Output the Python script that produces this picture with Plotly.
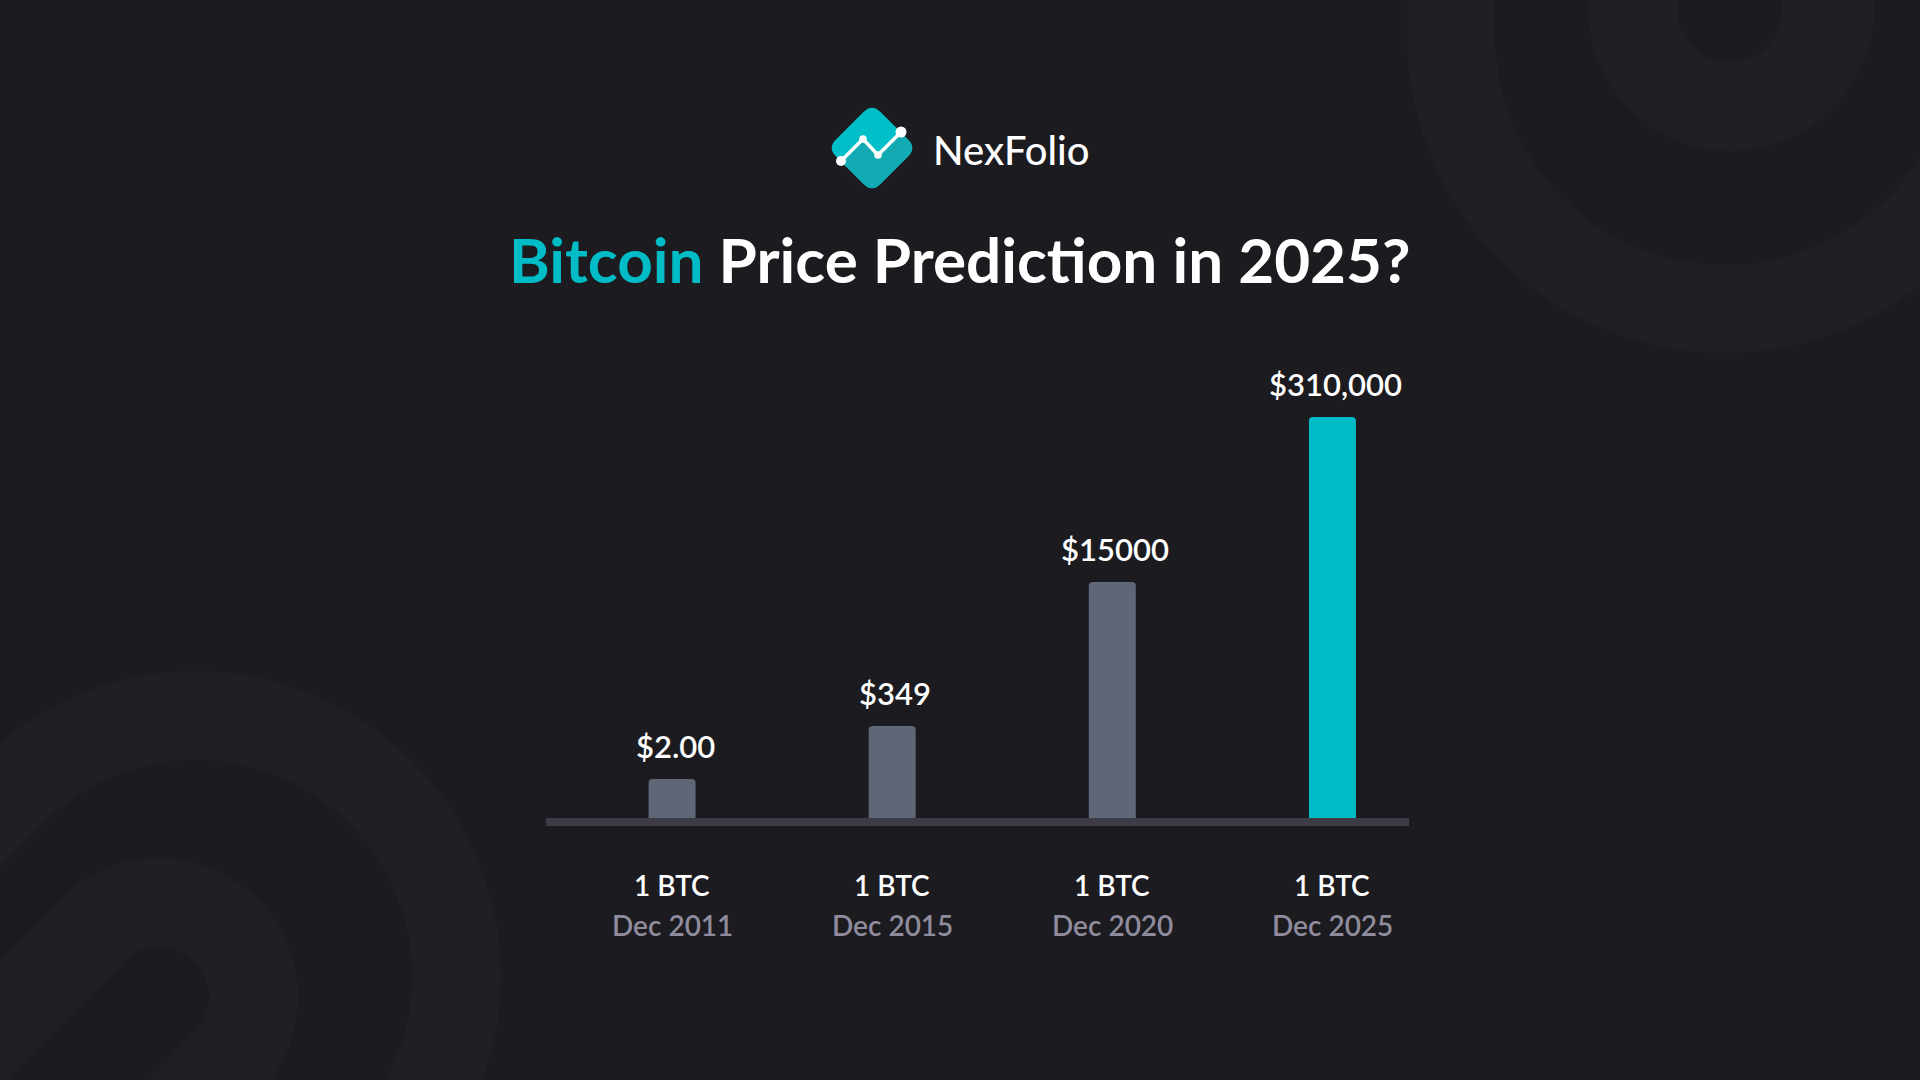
import numpy as np
import plotly.graph_objects as go

W, H = 1920, 1080

# chart data (bar heights are the illustrative heights drawn in the graphic, not to price scale)
periods = ["Dec 2011", "Dec 2015", "Dec 2020", "Dec 2025"]
unit_labels = ["1 BTC", "1 BTC", "1 BTC", "1 BTC"]
price_labels = ["$2.00", "$349", "$15000", "$310,000"]
bar_heights = [39, 92, 236, 401]

BG = "#1c1b20"
BG_LIGHT = "#201f25"
TEAL = "#00bcc6"
GREY = "#5f6776"
SUB = "#8f8c9d"
FONT = "Lato"


def paper(x, y):
    return x / W, 1 - y / H


def path_from(pts):
    s = ""
    for i, (x, y) in enumerate(pts):
        px, py = paper(x, y)
        s += ("M" if i == 0 else "L") + f"{px:.5f},{py:.5f} "
    return s + "Z"


def rounded_path(verts, radii):
    # polygon with quadratic-rounded corners, pixel coords in
    n = len(verts)
    v = np.array(verts, dtype=float)
    s = ""
    for i in range(n):
        p, c, nx = v[i - 1], v[i], v[(i + 1) % n]
        r = radii[i]
        if r == 0:
            a = b = c
        else:
            a = c + (p - c) / np.linalg.norm(p - c) * r
            b = c + (nx - c) / np.linalg.norm(nx - c) * r
        ax, ay = paper(*a)
        cx, cy = paper(*c)
        bx, by = paper(*b)
        s += ("M" if i == 0 else "L") + f"{ax:.5f},{ay:.5f} "
        s += f"Q{cx:.5f},{cy:.5f} {bx:.5f},{by:.5f} "
    return s + "Z"


def stadium(cx, cy, r, ang, length=900, n=80):
    a = np.radians(ang)
    d = np.array([np.cos(a), np.sin(a)])
    t = np.linspace(a + np.pi / 2, a + 3 * np.pi / 2, n)
    pts = [(cx + r * np.cos(k), cy + r * np.sin(k)) for k in t]
    pts.append(tuple(np.array(pts[-1]) + length * d))
    pts.append(tuple(np.array(pts[0]) + length * d))
    return path_from(pts)


shapes = []

# background decoration
deco = [
    (1725, 35, 318, -90, BG_LIGHT), (1725, 35, 230, -90, BG),
    (1731, 8, 143, -90, BG_LIGHT), (1730, 10, 52, -90, BG),
    (196, 976, 305, 135, BG_LIGHT), (196, 976, 216, 135, BG),
    (159, 997, 139, 135, BG_LIGHT), (159, 997, 50, 135, BG),
]
for cx, cy, r, ang, col in deco:
    shapes.append(dict(type="path", xref="paper", yref="paper", path=stadium(cx, cy, r, ang),
                       fillcolor=col, line=dict(width=0), layer="below"))

# logo
diamond = [(872, 103.5), (916.5, 148), (872, 192.5), (827.5, 148)]
shapes.append(dict(type="path", xref="paper", yref="paper", path=rounded_path(diamond, [12] * 4),
                   fillcolor="#00bfc9", line=dict(width=0)))
lower = [(841, 161.5), (863, 139), (878, 155), (901, 132.5), (916.5, 148), (872, 192.5)]
shapes.append(dict(type="path", xref="paper", yref="paper", path=rounded_path(lower, [0, 0, 0, 0, 12, 12]),
                   fillcolor="#12abb3", line=dict(width=0)))
zig = [(841, 161), (863, 139), (878, 155), (901, 132)]
zp = "M" + " L".join(f"{paper(x, y)[0]:.5f},{paper(x, y)[1]:.5f}" for x, y in zig)
shapes.append(dict(type="path", xref="paper", yref="paper", path=zp, line=dict(color="white", width=3.5)))
for (x, y), r in zip(zig, [5, 3.8, 3.8, 5.5]):
    x0, y0 = paper(x - r, y + r)
    x1, y1 = paper(x + r, y - r)
    shapes.append(dict(type="circle", xref="paper", yref="paper", x0=x0, y0=y0, x1=x1, y1=y1,
                       fillcolor="white", line=dict(width=0)))

# baseline bar
bx0, by0 = paper(546, 826)
bx1, by1 = paper(1409, 818)
shapes.append(dict(type="rect", xref="paper", yref="paper", x0=bx0, y0=by0, x1=bx1, y1=by1,
                   fillcolor="#3c3b46", line=dict(width=0), layer="below"))

fig = go.Figure(go.Bar(
    x=periods, y=bar_heights, width=0.2135,
    marker=dict(color=[GREY, GREY, GREY, TEAL], line=dict(width=0)),
    hoverinfo="skip",
))

annotations = []
for p, h, lab in zip(periods, bar_heights, price_labels):
    annotations.append(dict(x=p, y=h, xref="x", yref="y", text=lab, showarrow=False,
                            yanchor="middle", yshift=33, xshift=3,
                            font=dict(family=FONT, size=31, color="white", weight=600)))
for p, u in zip(periods, unit_labels):
    annotations.append(dict(x=p, y=paper(0, 885)[1], xref="x", yref="paper", text=u, showarrow=False,
                            yanchor="middle", font=dict(family=FONT, size=28, color="white", weight=600)))
    annotations.append(dict(x=p, y=paper(0, 925)[1], xref="x", yref="paper", text=p, showarrow=False,
                            yanchor="middle", font=dict(family=FONT, size=28, color=SUB, weight=600)))

annotations.append(dict(x=0.5, y=paper(0, 259)[1], xref="paper", yref="paper", showarrow=False,
                        text=f"<span style='color:{TEAL}'>Bitcoin</span> Price Prediction in 2025?",
                        yanchor="middle", font=dict(family=FONT, size=62, color="white", weight=700)))
annotations.append(dict(x=paper(931, 0)[0], y=paper(0, 150)[1], xref="paper", yref="paper",
                        showarrow=False, text="NexFolio", xanchor="left", yanchor="middle",
                        font=dict(family=FONT, size=40, color="white", weight=500)))

fig.update_layout(
    width=W, height=H, margin=dict(l=0, r=0, t=0, b=0),
    paper_bgcolor=BG, plot_bgcolor="rgba(0,0,0,0)",
    showlegend=False, barcornerradius=4,
    xaxis=dict(type="category", range=[-0.5, 3.5], domain=[562 / W, 1442.5 / W],
               visible=False, fixedrange=True),
    yaxis=dict(range=[0, 500], domain=[paper(0, 818)[1], paper(0, 318)[1]],
               visible=False, fixedrange=True),
    shapes=shapes, annotations=annotations,
)

fig.write_html("out.html", config={"displayModeBar": False},
               post_script="document.body.style.margin='0';document.body.style.overflow='hidden';")
